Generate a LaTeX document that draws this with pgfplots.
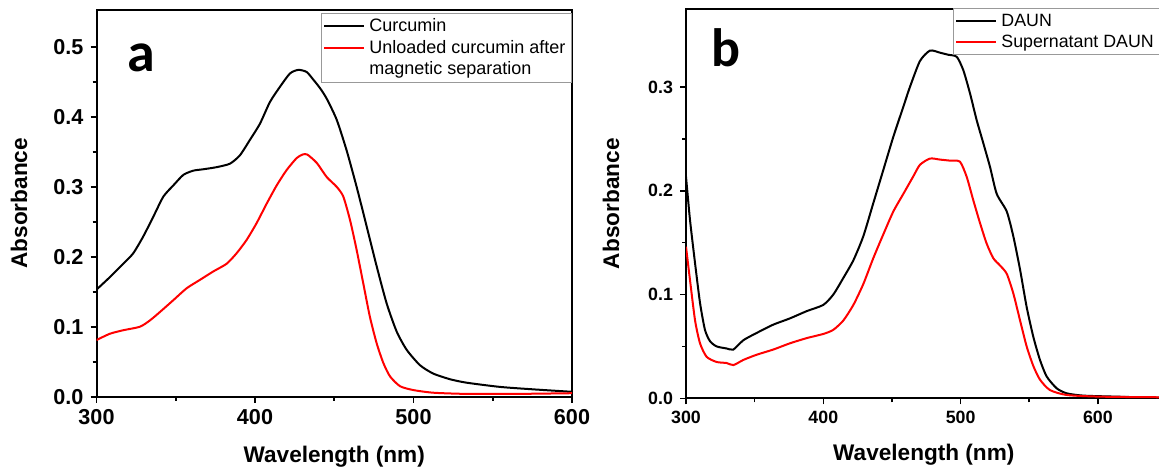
\documentclass[border=0pt]{standalone}
\usepackage{fontspec}
\setmainfont{Liberation Sans}
\newfontfamily\calib{Carlito}
\usepackage{pgfplots}
\pgfplotsset{compat=1.18}

\pgfplotstableread{
x y
300 0.153
308.5 0.171
316.9 0.190
323.2 0.205
329.5 0.229
335.8 0.257
342.2 0.286
348.5 0.302
354.8 0.317
361.1 0.323
367.4 0.325
375.8 0.328
384.2 0.333
390.5 0.345
396.8 0.367
403.1 0.390
409.4 0.421
415.8 0.443
422.1 0.462
427.4 0.467
432.6 0.464
436.8 0.453
441 0.441
445.2 0.426
451.5 0.396
457.8 0.352
464.1 0.300
470.5 0.243
476.8 0.186
483.1 0.133
489.4 0.093
495.7 0.067
504.1 0.045
512.5 0.033
523 0.025
533.6 0.020
554.6 0.014
575.6 0.0105
600 0.007
}\curcumin

\pgfplotstableread{
x y
300 0.081
308.5 0.090
316.9 0.095
327.4 0.100
333.7 0.109
340 0.121
348.5 0.138
356.9 0.155
365.3 0.167
373.7 0.179
382.1 0.190
388.4 0.205
394.7 0.224
401 0.248
407.4 0.276
413.7 0.302
420 0.324
426.3 0.341
430 0.346
433 0.346
439 0.334
445.2 0.314
451.5 0.300
455.7 0.286
460 0.252
464.1 0.210
468.3 0.162
472.5 0.114
476.8 0.076
481 0.048
485.2 0.029
491.5 0.015
499.9 0.0095
512.5 0.0057
533.6 0.004
565 0.004
600 0.005
}\unloaded

\pgfplotstableread{
x y
300 0.2135
302.9 0.172
306.6 0.130
310.2 0.092
313.8 0.066
317.5 0.055
322.3 0.050
329.6 0.048
334.5 0.047
341.8 0.056
351.5 0.063
363.6 0.071
375.7 0.077
387.9 0.084
400 0.090
407.3 0.100
414.6 0.116
421.9 0.133
429.1 0.156
436.4 0.188
443.7 0.220
451 0.252
458.3 0.281
463.1 0.300
470.4 0.325
477.7 0.335
485 0.333
491 0.331
497.2 0.329
502 0.316
506.8 0.294
511.7 0.268
516.5 0.246
521.4 0.223
526.3 0.197
533.6 0.180
538.4 0.156
543.3 0.124
548.1 0.088
553 0.059
557.8 0.037
562.7 0.021
570 0.0096
577.3 0.0048
589.4 0.0026
613.7 0.0016
645 0.0006
700 0.0005
}\daun

\pgfplotstableread{
x y
300 0.146
302.9 0.114
306.6 0.075
310.2 0.053
315 0.040
322.3 0.035
329.6 0.034
334.5 0.032
341.8 0.037
351.5 0.042
363.6 0.047
375.7 0.053
387.9 0.058
400 0.062
407.3 0.066
414.6 0.075
421.9 0.090
429.1 0.110
436.4 0.135
443.7 0.158
451 0.180
458.3 0.197
465.6 0.214
470.4 0.225
477.7 0.231
485 0.230
492.3 0.229
499.5 0.228
504.4 0.2135
509.2 0.191
514.1 0.169
519 0.149
523.8 0.135
528.7 0.128
533.6 0.120
538.4 0.101
543.3 0.075
548.1 0.050
553 0.031
557.8 0.018
565 0.008
577.3 0.0032
601.6 0.0016
645 0.001
700 0.001
}\superdaun

\pgfplotsset{
  myax/.style={
    scale only axis,
    axis line style={line width=1pt},
    tick align=outside, xtick pos=bottom, ytick pos=left,
    major tick length=3pt, minor tick length=2pt,
    every tick/.style={black, line width=0.8pt},
    minor y tick num=1,
    /pgf/number format/assume math mode=true,
    yticklabel style={/pgf/number format/.cd, fixed, fixed zerofill, precision=1},
    legend cell align=left,
    legend image code/.code={\draw[#1,line width=1pt] (0pt,0pt) -- (20pt,0pt);},
    every axis plot/.append style={line width=1pt, smooth, tension=0.4},
  }
}

\begin{document}
\begin{tikzpicture}
\useasboundingbox (0pt,0pt) rectangle (579.5pt,236pt);
\clip (0pt,0pt) rectangle (579.5pt,236pt);

\begin{axis}[myax,
  at={(48.25pt,37.65pt)}, anchor=south west,
  width=237.75pt, height=193.5pt,
  xmin=300, xmax=600, ymin=0, ymax=0.553,
  xtick={300,400,500,600}, minor xtick={350,450,550},
  ytick={0,0.1,0.2,0.3,0.4,0.5},
  ticklabel style={font=\bfseries\fontsize{10.8}{12}\selectfont},
  xlabel={Wavelength (nm)}, ylabel={Absorbance},
  xlabel style={font=\bfseries\fontsize{11.3}{13}\selectfont, at={(axis description cs:0.5,-0.156)}, anchor=center},
  ylabel style={font=\bfseries\fontsize{11.3}{13}\selectfont, at={(axis description cs:-0.163,0.5)}, anchor=center},
  legend style={at={(1,0.991)}, anchor=north east, draw=gray!80, line width=0.5pt,
    font=\fontsize{9}{10.8}\selectfont, inner xsep=1pt, inner ysep=1pt,
    nodes={text height=7pt, text depth=2pt, inner ysep=0.9pt, inner xsep=2pt}},
]
\addplot[black, no marks] table {\curcumin};
\addlegendentry{Curcumin}
\addplot[red, no marks] table {\unloaded};
\addlegendentry{Unloaded curcumin after}
\addlegendimage{empty legend}
\addlegendentry{magnetic separation}
\end{axis}

\begin{axis}[myax,
  at={(343pt,36.85pt)}, anchor=south west,
  width=274.6pt, height=194.6pt,
  xmin=300, xmax=700, ymin=0, ymax=0.375,
  xtick={300,400,500,600}, minor xtick={350,450,550,650},
  ytick={0,0.1,0.2,0.3},
  ticklabel style={font=\bfseries\fontsize{8.9}{10}\selectfont},
  xlabel={Wavelength (nm)}, ylabel={Absorbance},
  xlabel style={font=\bfseries\fontsize{11.3}{13}\selectfont, at={(axis description cs:0.433,-0.1457)}, anchor=center},
  ylabel style={font=\bfseries\fontsize{11.3}{13}\selectfont, at={(axis description cs:-0.1366,0.5)}, anchor=center},
  legend style={at={(0.486,1.002)}, anchor=north west, draw=gray!80, line width=0.5pt,
    font=\fontsize{8.9}{10.5}\selectfont, inner xsep=1pt, inner ysep=1pt,
    nodes={text height=7pt, text depth=2pt, inner ysep=0.75pt, inner xsep=2pt}},
]
\addplot[black, no marks] table {\daun};
\addlegendentry{DAUN}
\addplot[red, no marks] table {\superdaun};
\addlegendentry{Supernatant DAUN}
\end{axis}

\node[font=\calib\bfseries\fontsize{28}{30}\selectfont, anchor=base] at (70.5pt,200pt) {a};
\node[font=\calib\bfseries\fontsize{27}{30}\selectfont, anchor=base] at (363pt,202.5pt) {b};
\end{tikzpicture}
\end{document}
